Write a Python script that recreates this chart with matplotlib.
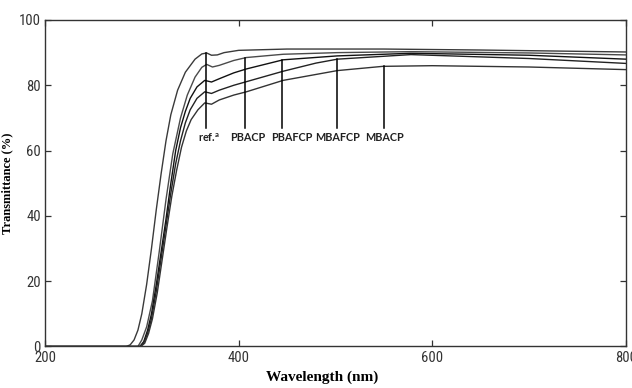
import numpy as np
import matplotlib
matplotlib.use('Agg')
import matplotlib.pyplot as plt
from matplotlib import font_manager

# transmittance spectra (wavelength nm, T %)
wl_ref = [200, 284, 288, 292, 296, 300, 305, 310, 315, 320, 325, 330, 337, 345, 355, 362, 367, 372, 378, 385, 400, 450, 550, 650, 800]
t_ref = [0, 0, 0.5, 2, 5, 10, 19, 30, 42, 53, 63, 71, 78.5, 84, 88, 89.6, 89.9, 89.2, 89.3, 90, 90.7, 91.1, 91.1, 90.8, 90.2]

wl_pbacp = [200, 296, 300, 305, 311, 318, 325, 332, 340, 347, 355, 362, 367, 373, 380, 395, 408, 446, 502, 578, 700, 800]
t_pbacp = [0, 0, 2, 6, 14, 29, 45, 59, 70, 77, 82.5, 85.5, 86.4, 85.6, 86.1, 87.6, 88.5, 89.5, 90, 90.3, 89.9, 89.3]

wl_pbafcp = [200, 298, 302, 306, 310, 315, 320, 325, 330, 335, 340, 345, 350, 357, 365, 372, 380, 395, 408, 446, 502, 578, 700, 800]
t_pbafcp = [0, 0, 1.5, 5, 10, 19, 29, 39, 50, 60, 67, 72, 76, 79.5, 81.5, 81, 82, 83.8, 85, 87.8, 89, 89.8, 89.2, 88.0]

wl_mbafcp = [200, 298, 302, 306, 310, 315, 320, 325, 330, 335, 340, 345, 350, 357, 365, 372, 380, 395, 408, 446, 480, 502, 578, 700, 800]
t_mbafcp = [0, 0, 1, 4, 8.5, 17, 27, 37, 47, 56, 63, 68.5, 72.5, 76, 78, 77.5, 78.5, 80, 81.1, 84.3, 86.8, 88, 89.4, 88.2, 86.7]

wl_mbacp = [200, 299, 303, 307, 311, 316, 321, 326, 331, 336, 341, 346, 351, 358, 365, 372, 380, 395, 408, 446, 502, 549, 600, 700, 800]
t_mbacp = [0, 0, 1, 4, 8.5, 16.5, 26.5, 36.5, 46, 54, 61, 66, 69.5, 72.5, 74.6, 74.2, 75.5, 77, 78, 81.5, 84.5, 85.8, 86, 85.6, 84.8]

labels = ['ref.$^\\mathregular{a}$', 'PBACP', 'PBAFCP', 'MBAFCP', 'MBACP']
line_wl = [366, 407, 445, 502, 550]
text_wl = [369, 409, 455, 502, 551]

series = [(wl_ref, t_ref, '#3a3a3a'), (wl_pbacp, t_pbacp, '#4a4a4a'),
          (wl_pbafcp, t_pbafcp, '#111111'), (wl_mbafcp, t_mbafcp, '#222222'),
          (wl_mbacp, t_mbacp, '#333333')]

# narrow face for the tick numbers, if one is around
names = set(f.name for f in font_manager.fontManager.ttflist)
narrow = [n for n in ['Liberation Sans Narrow', 'Roboto Condensed', 'Open Sans Condensed'] if n in names]
tick_family = narrow + ['DejaVu Sans']

fig = plt.figure(figsize=(6.32, 3.88), dpi=100)
ax = fig.add_axes([0.0712, 0.107, 0.919, 0.8415])

for wl, t, c in series:
    ax.plot(wl, t, color=c, lw=1.0)

# leader lines from each curve down to its label
for (wl, t, c), lab, x, xt in zip(series, labels, line_wl, text_wl):
    ytop = np.interp(x, wl, t)
    ax.plot([x, x], [ytop, 67], color='black', lw=1.1)
    ax.text(xt, 64, lab, ha='center', va='center', fontsize=7.8,
            fontweight='bold', family=['Lato', 'DejaVu Sans'], color='#222222')

ax.set_xlim(200, 800)
ax.set_ylim(0, 100)
ax.set_xticks([200, 400, 600, 800])
ax.set_yticks([0, 20, 40, 60, 80, 100])
ax.tick_params(direction='in', length=4, width=0.9, top=True, right=True,
               labelsize=10.5, colors='#333333', pad=3)
for lab in ax.get_xticklabels() + ax.get_yticklabels():
    lab.set_family(tick_family)
    lab.set_fontstretch('condensed')
    if not narrow:
        lab.set_fontsize(9)
for s in ax.spines.values():
    s.set_color('#333333')
    s.set_linewidth(1.0)

ax.set_xlabel('Wavelength (nm)', fontsize=11, fontweight='bold',
              family=['Liberation Serif', 'DejaVu Serif'])
ax.xaxis.set_label_coords(0.478, -0.075)
ax.set_ylabel('Transmittance (%)', fontsize=9, fontweight='bold',
              family=['Liberation Serif', 'DejaVu Serif'])
ax.yaxis.set_label_coords(-0.055, 0.5)

fig.savefig('out.png', dpi=100)
